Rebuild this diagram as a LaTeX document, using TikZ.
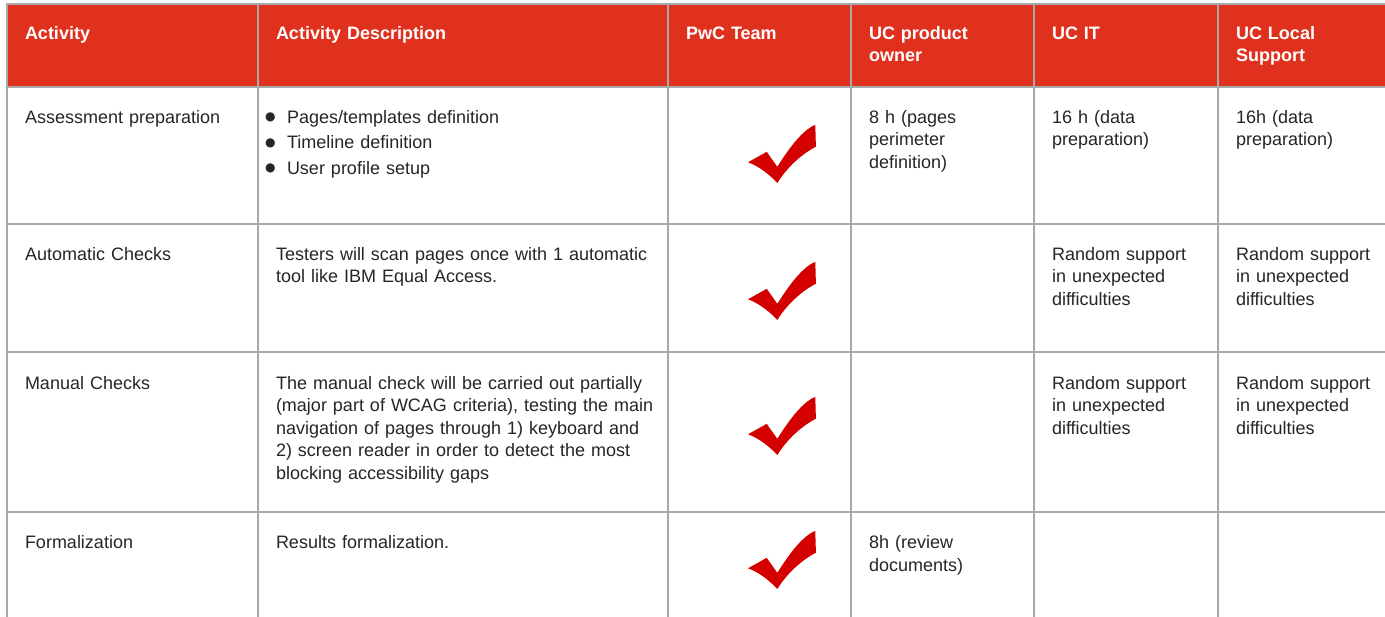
\documentclass[tikz,border=0pt]{standalone}
\usepackage{fontspec}
\setmainfont{Liberation Sans}
\newfontfamily\symfnt{DejaVu Sans}
\definecolor{hdr}{HTML}{E0311F}
\definecolor{grid}{HTML}{A8A8A8}
\definecolor{checkred}{HTML}{D40000}
\definecolor{txt}{HTML}{262626}
\newcommand{\mybul}{\makebox[22pt][l]{\raisebox{2.5pt}{\symfnt\fontsize{12}{12}\selectfont ●}}}
\tikzset{
  gridline/.style={draw=grid, line width=2pt},
  cell/.style={anchor=base west, inner sep=0pt, outer sep=0pt, align=left, text width=#1,
    font=\fontsize{18}{22.5}\selectfont, text=txt},
  cell/.default=170pt,
  headcell/.style={cell=#1, font=\fontsize{18}{22}\selectfont\bfseries, text=white},
  headcell/.default=170pt,
  checkmark/.pic={\fill[checkred] (0,37.3) -- (18.7,26.8) -- (29.3,41.8)
     .. controls (40,25) and (52,8) .. (64.7,1) -- (67.3,0) -- (67.9,21.7)
     .. controls (52,30) and (38,44) .. (29.3,58)
     .. controls (20,48) and (10,41) .. cycle;}
}
\begin{document}
\begin{tikzpicture}[x=1pt,y=-1pt]
\useasboundingbox (0,0) rectangle (1385,617);
\fill[white] (0,0) rectangle (1385,617);
\fill[hdr] (7,4) rectangle (1385,87);
% grid
\foreach \yy in {4,87,224,352,512} \draw[gridline] (6,\yy) -- (1385,\yy);
\foreach \xx in {7,258,668,851,1034,1218} \draw[gridline] (\xx,3) -- (\xx,617);
% header
\node[headcell=220pt] (h1) at (25,40) {Activity};
\node[headcell=380pt] (h2) at (276,40) {Activity Description};
\node[headcell] (h3) at (686,40) {PwC Team};
\node[headcell] (h4) at (869,40) {UC product\\owner};
\node[headcell] (h5) at (1052,40) {UC IT};
\node[headcell=150pt] (h6) at (1236,40) {UC Local\\Support};
% row 1
\node[cell=220pt] (a1) at (25,123.5) {Assessment preparation};
\node[cell=390pt, font=\fontsize{18}{25.5}\selectfont] (d1) at (265,123.5)
  {\mybul Pages/templates definition\\\mybul Timeline definition\\\mybul User profile setup};
\pic (c1) at (748,125) {checkmark};
\node[cell] (o1) at (869,123.5) {8 h (pages\\perimeter\\definition)};
\node[cell] (i1) at (1052,123.5) {16 h (data\\preparation)};
\node[cell=150pt] (l1) at (1236,123.5) {16h (data\\preparation)};
% row 2
\node[cell=220pt] (a2) at (25,260.5) {Automatic Checks};
\node[cell=390pt] (d2) at (276,260.5) {Testers will scan pages once with 1 automatic\\tool like IBM Equal Access.};
\pic (c2) at (748,262) {checkmark};
\node[cell] (i2) at (1052,260.5) {Random support\\in unexpected\\difficulties};
\node[cell=150pt] (l2) at (1236,260.5) {Random support\\in unexpected\\difficulties};
% row 3
\node[cell=220pt] (a3) at (25,389.5) {Manual Checks};
\node[cell=390pt] (d3) at (276,389.5) {The manual check will be carried out partially\\(major part of WCAG criteria), testing the main\\navigation of pages through 1) keyboard and\\2) screen reader in order to detect the most\\blocking accessibility gaps};
\pic (c3) at (748,397) {checkmark};
\node[cell] (i3) at (1052,389.5) {Random support\\in unexpected\\difficulties};
\node[cell=150pt] (l3) at (1236,389.5) {Random support\\in unexpected\\difficulties};
% row 4
\node[cell=220pt] (a4) at (25,548.5) {Formalization};
\node[cell=390pt] (d4) at (276,548.5) {Results formalization.};
\pic (c4) at (748,531) {checkmark};
\node[cell] (o4) at (869,548.5) {8h (review\\documents)};
\end{tikzpicture}
\end{document}
